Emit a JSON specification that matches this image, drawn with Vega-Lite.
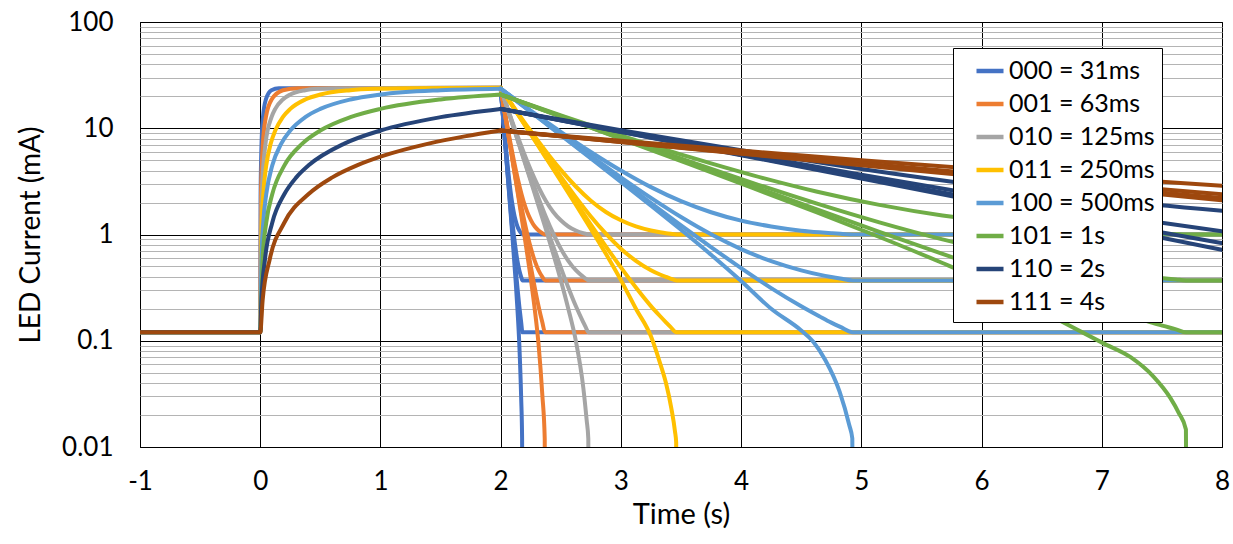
{
"$schema": "https://vega.github.io/schema/vega-lite/v6.json",
"width": 1082, "height": 425,
"autosize": {"type": "none"},
"padding": {"left": 140, "top": 22, "right": 11, "bottom": 97},
"background": "#ffffff",
"config": {"font": "Lato", "view": {"stroke": "#000", "strokeWidth": 1}},
"data": {"values": [
{"s":"000 = 31ms","b":"r","t":-1,"y":0.12},{"s":"000 = 31ms","b":"r","t":0,"y":0.12},{"s":"000 = 31ms","b":"r","t":0.0031,"y":2.39},{"s":"000 = 31ms","b":"r","t":0.011,"y":7.17},{"s":"000 = 31ms","b":"r","t":0.023,"y":12.72},{"s":"000 = 31ms","b":"r","t":0.047,"y":18.67},{"s":"000 = 31ms","b":"r","t":0.093,"y":22.81},{"s":"000 = 31ms","b":"r","t":0.155,"y":23.84},{"s":"000 = 31ms","b":"r","t":2,"y":24},
{"s":"000 = 31ms","b":"a","t":2,"y":24},{"s":"000 = 31ms","b":"a","t":2.031,"y":9.42},{"s":"000 = 31ms","b":"a","t":2.062,"y":4.06},{"s":"000 = 31ms","b":"a","t":2.093,"y":2.08},{"s":"000 = 31ms","b":"a","t":2.124,"y":1.36},{"s":"000 = 31ms","b":"a","t":2.1395,"y":1.19},{"s":"000 = 31ms","b":"a","t":2.155,"y":1.09},{"s":"000 = 31ms","b":"a","t":2.1705,"y":1.028},{"s":"000 = 31ms","b":"a","t":2.1814,"y":1},{"s":"000 = 31ms","b":"a","t":8,"y":1},
{"s":"000 = 31ms","b":"b","t":2,"y":24},{"s":"000 = 31ms","b":"b","t":2.031,"y":9.02},{"s":"000 = 31ms","b":"b","t":2.062,"y":3.51},{"s":"000 = 31ms","b":"b","t":2.093,"y":1.48},{"s":"000 = 31ms","b":"b","t":2.124,"y":0.736},{"s":"000 = 31ms","b":"b","t":2.1395,"y":0.565},{"s":"000 = 31ms","b":"b","t":2.155,"y":0.461},{"s":"000 = 31ms","b":"b","t":2.1705,"y":0.399},{"s":"000 = 31ms","b":"b","t":2.1814,"y":0.37},{"s":"000 = 31ms","b":"b","t":8,"y":0.37},
{"s":"000 = 31ms","b":"c","t":2,"y":24},{"s":"000 = 31ms","b":"c","t":2.031,"y":8.86},{"s":"000 = 31ms","b":"c","t":2.062,"y":3.29},{"s":"000 = 31ms","b":"c","t":2.093,"y":1.24},{"s":"000 = 31ms","b":"c","t":2.124,"y":0.49},{"s":"000 = 31ms","b":"c","t":2.1395,"y":0.317},{"s":"000 = 31ms","b":"c","t":2.155,"y":0.212},{"s":"000 = 31ms","b":"c","t":2.1705,"y":0.149},{"s":"000 = 31ms","b":"c","t":2.1814,"y":0.12},{"s":"000 = 31ms","b":"c","t":8,"y":0.12},
{"s":"000 = 31ms","b":"d","t":2,"y":24},{"s":"000 = 31ms","b":"d","t":2.031,"y":8.79},{"s":"000 = 31ms","b":"d","t":2.062,"y":3.19},{"s":"000 = 31ms","b":"d","t":2.093,"y":1.13},{"s":"000 = 31ms","b":"d","t":2.124,"y":0.372},{"s":"000 = 31ms","b":"d","t":2.1395,"y":0.198},{"s":"000 = 31ms","b":"d","t":2.155,"y":0.093},{"s":"000 = 31ms","b":"d","t":2.1705,"y":0.029},{"s":"000 = 31ms","b":"d","t":2.1783,"y":0.012},{"s":"000 = 31ms","b":"d","t":2.1814,"y":0.001},

{"s":"001 = 63ms","b":"r","t":-1,"y":0.12},{"s":"001 = 63ms","b":"r","t":0,"y":0.12},{"s":"001 = 63ms","b":"r","t":0.0063,"y":2.39},{"s":"001 = 63ms","b":"r","t":0.022,"y":7.17},{"s":"001 = 63ms","b":"r","t":0.047,"y":12.72},{"s":"001 = 63ms","b":"r","t":0.095,"y":18.67},{"s":"001 = 63ms","b":"r","t":0.189,"y":22.81},{"s":"001 = 63ms","b":"r","t":0.315,"y":23.84},{"s":"001 = 63ms","b":"r","t":2,"y":24},
{"s":"001 = 63ms","b":"a","t":2,"y":24},{"s":"001 = 63ms","b":"a","t":2.063,"y":9.42},{"s":"001 = 63ms","b":"a","t":2.126,"y":4.06},{"s":"001 = 63ms","b":"a","t":2.189,"y":2.08},{"s":"001 = 63ms","b":"a","t":2.252,"y":1.36},{"s":"001 = 63ms","b":"a","t":2.2835,"y":1.19},{"s":"001 = 63ms","b":"a","t":2.315,"y":1.09},{"s":"001 = 63ms","b":"a","t":2.3465,"y":1.028},{"s":"001 = 63ms","b":"a","t":2.3686,"y":1},{"s":"001 = 63ms","b":"a","t":8,"y":1},
{"s":"001 = 63ms","b":"b","t":2,"y":24},{"s":"001 = 63ms","b":"b","t":2.063,"y":9.02},{"s":"001 = 63ms","b":"b","t":2.126,"y":3.51},{"s":"001 = 63ms","b":"b","t":2.189,"y":1.48},{"s":"001 = 63ms","b":"b","t":2.252,"y":0.736},{"s":"001 = 63ms","b":"b","t":2.2835,"y":0.565},{"s":"001 = 63ms","b":"b","t":2.315,"y":0.461},{"s":"001 = 63ms","b":"b","t":2.3465,"y":0.399},{"s":"001 = 63ms","b":"b","t":2.3686,"y":0.37},{"s":"001 = 63ms","b":"b","t":8,"y":0.37},
{"s":"001 = 63ms","b":"c","t":2,"y":24},{"s":"001 = 63ms","b":"c","t":2.063,"y":8.86},{"s":"001 = 63ms","b":"c","t":2.126,"y":3.29},{"s":"001 = 63ms","b":"c","t":2.189,"y":1.24},{"s":"001 = 63ms","b":"c","t":2.252,"y":0.49},{"s":"001 = 63ms","b":"c","t":2.2835,"y":0.317},{"s":"001 = 63ms","b":"c","t":2.315,"y":0.212},{"s":"001 = 63ms","b":"c","t":2.3465,"y":0.149},{"s":"001 = 63ms","b":"c","t":2.3686,"y":0.12},{"s":"001 = 63ms","b":"c","t":8,"y":0.12},
{"s":"001 = 63ms","b":"d","t":2,"y":24},{"s":"001 = 63ms","b":"d","t":2.063,"y":8.79},{"s":"001 = 63ms","b":"d","t":2.126,"y":3.19},{"s":"001 = 63ms","b":"d","t":2.189,"y":1.13},{"s":"001 = 63ms","b":"d","t":2.252,"y":0.372},{"s":"001 = 63ms","b":"d","t":2.2835,"y":0.198},{"s":"001 = 63ms","b":"d","t":2.315,"y":0.093},{"s":"001 = 63ms","b":"d","t":2.3465,"y":0.031},{"s":"001 = 63ms","b":"d","t":2.3665,"y":0.012},{"s":"001 = 63ms","b":"d","t":2.3686,"y":0.001},

{"s":"010 = 125ms","b":"r","t":-1,"y":0.12},{"s":"010 = 125ms","b":"r","t":0,"y":0.12},{"s":"010 = 125ms","b":"r","t":0.0125,"y":2.39},{"s":"010 = 125ms","b":"r","t":0.044,"y":7.17},{"s":"010 = 125ms","b":"r","t":0.094,"y":12.72},{"s":"010 = 125ms","b":"r","t":0.125,"y":15.21},{"s":"010 = 125ms","b":"r","t":0.188,"y":18.67},{"s":"010 = 125ms","b":"r","t":0.25,"y":20.77},{"s":"010 = 125ms","b":"r","t":0.375,"y":22.81},{"s":"010 = 125ms","b":"r","t":0.5,"y":23.56},{"s":"010 = 125ms","b":"r","t":0.625,"y":23.84},{"s":"010 = 125ms","b":"r","t":2,"y":24},
{"s":"010 = 125ms","b":"a","t":2,"y":24},{"s":"010 = 125ms","b":"a","t":2.125,"y":9.42},{"s":"010 = 125ms","b":"a","t":2.25,"y":4.06},{"s":"010 = 125ms","b":"a","t":2.375,"y":2.08},{"s":"010 = 125ms","b":"a","t":2.4375,"y":1.63},{"s":"010 = 125ms","b":"a","t":2.5,"y":1.36},{"s":"010 = 125ms","b":"a","t":2.5625,"y":1.19},{"s":"010 = 125ms","b":"a","t":2.625,"y":1.09},{"s":"010 = 125ms","b":"a","t":2.6875,"y":1.028},{"s":"010 = 125ms","b":"a","t":2.7063,"y":1.015},{"s":"010 = 125ms","b":"a","t":2.7313,"y":1},{"s":"010 = 125ms","b":"a","t":8,"y":1},
{"s":"010 = 125ms","b":"b","t":2,"y":24},{"s":"010 = 125ms","b":"b","t":2.125,"y":9.02},{"s":"010 = 125ms","b":"b","t":2.25,"y":3.51},{"s":"010 = 125ms","b":"b","t":2.375,"y":1.48},{"s":"010 = 125ms","b":"b","t":2.4375,"y":1.02},{"s":"010 = 125ms","b":"b","t":2.5,"y":0.736},{"s":"010 = 125ms","b":"b","t":2.5625,"y":0.565},{"s":"010 = 125ms","b":"b","t":2.625,"y":0.461},{"s":"010 = 125ms","b":"b","t":2.6875,"y":0.399},{"s":"010 = 125ms","b":"b","t":2.7063,"y":0.385},{"s":"010 = 125ms","b":"b","t":2.7313,"y":0.37},{"s":"010 = 125ms","b":"b","t":8,"y":0.37},
{"s":"010 = 125ms","b":"c","t":2,"y":24},{"s":"010 = 125ms","b":"c","t":2.125,"y":8.86},{"s":"010 = 125ms","b":"c","t":2.25,"y":3.29},{"s":"010 = 125ms","b":"c","t":2.375,"y":1.24},{"s":"010 = 125ms","b":"c","t":2.4375,"y":0.774},{"s":"010 = 125ms","b":"c","t":2.5,"y":0.49},{"s":"010 = 125ms","b":"c","t":2.5625,"y":0.317},{"s":"010 = 125ms","b":"c","t":2.625,"y":0.212},{"s":"010 = 125ms","b":"c","t":2.6875,"y":0.149},{"s":"010 = 125ms","b":"c","t":2.7063,"y":0.135},{"s":"010 = 125ms","b":"c","t":2.7313,"y":0.12},{"s":"010 = 125ms","b":"c","t":8,"y":0.12},
{"s":"010 = 125ms","b":"d","t":2,"y":24},{"s":"010 = 125ms","b":"d","t":2.125,"y":8.79},{"s":"010 = 125ms","b":"d","t":2.25,"y":3.19},{"s":"010 = 125ms","b":"d","t":2.375,"y":1.13},{"s":"010 = 125ms","b":"d","t":2.4375,"y":0.658},{"s":"010 = 125ms","b":"d","t":2.5,"y":0.372},{"s":"010 = 125ms","b":"d","t":2.5625,"y":0.2},{"s":"010 = 125ms","b":"d","t":2.625,"y":0.1},{"s":"010 = 125ms","b":"d","t":2.6875,"y":0.036},{"s":"010 = 125ms","b":"d","t":2.715,"y":0.018},{"s":"010 = 125ms","b":"d","t":2.729,"y":0.012},{"s":"010 = 125ms","b":"d","t":2.7313,"y":0.001},

{"s":"011 = 250ms","b":"r","t":-1,"y":0.12},{"s":"011 = 250ms","b":"r","t":0,"y":0.12},{"s":"011 = 250ms","b":"r","t":0.0125,"y":1.29},{"s":"011 = 250ms","b":"r","t":0.025,"y":2.39},{"s":"011 = 250ms","b":"r","t":0.05,"y":4.45},{"s":"011 = 250ms","b":"r","t":0.0875,"y":7.17},{"s":"011 = 250ms","b":"r","t":0.125,"y":9.52},{"s":"011 = 250ms","b":"r","t":0.1875,"y":12.72},{"s":"011 = 250ms","b":"r","t":0.25,"y":15.21},{"s":"011 = 250ms","b":"r","t":0.375,"y":18.67},{"s":"011 = 250ms","b":"r","t":0.5,"y":20.77},{"s":"011 = 250ms","b":"r","t":0.75,"y":22.81},{"s":"011 = 250ms","b":"r","t":1,"y":23.56},{"s":"011 = 250ms","b":"r","t":1.25,"y":23.84},{"s":"011 = 250ms","b":"r","t":2,"y":24},
{"s":"011 = 250ms","b":"a","t":2,"y":24},{"s":"011 = 250ms","b":"a","t":2.125,"y":14.92},{"s":"011 = 250ms","b":"a","t":2.25,"y":9.42},{"s":"011 = 250ms","b":"a","t":2.375,"y":6.08},{"s":"011 = 250ms","b":"a","t":2.5,"y":4.06},{"s":"011 = 250ms","b":"a","t":2.625,"y":2.83},{"s":"011 = 250ms","b":"a","t":2.75,"y":2.08},{"s":"011 = 250ms","b":"a","t":2.875,"y":1.63},{"s":"011 = 250ms","b":"a","t":3,"y":1.36},{"s":"011 = 250ms","b":"a","t":3.125,"y":1.19},{"s":"011 = 250ms","b":"a","t":3.25,"y":1.09},{"s":"011 = 250ms","b":"a","t":3.325,"y":1.05},{"s":"011 = 250ms","b":"a","t":3.375,"y":1.028},{"s":"011 = 250ms","b":"a","t":3.4125,"y":1.015},{"s":"011 = 250ms","b":"a","t":3.4625,"y":1},{"s":"011 = 250ms","b":"a","t":8,"y":1},
{"s":"011 = 250ms","b":"b","t":2,"y":24},{"s":"011 = 250ms","b":"b","t":2.125,"y":14.68},{"s":"011 = 250ms","b":"b","t":2.25,"y":9.02},{"s":"011 = 250ms","b":"b","t":2.375,"y":5.59},{"s":"011 = 250ms","b":"b","t":2.5,"y":3.51},{"s":"011 = 250ms","b":"b","t":2.625,"y":2.25},{"s":"011 = 250ms","b":"b","t":2.75,"y":1.48},{"s":"011 = 250ms","b":"b","t":2.875,"y":1.02},{"s":"011 = 250ms","b":"b","t":3,"y":0.736},{"s":"011 = 250ms","b":"b","t":3.125,"y":0.565},{"s":"011 = 250ms","b":"b","t":3.25,"y":0.461},{"s":"011 = 250ms","b":"b","t":3.325,"y":0.42},{"s":"011 = 250ms","b":"b","t":3.375,"y":0.399},{"s":"011 = 250ms","b":"b","t":3.4125,"y":0.385},{"s":"011 = 250ms","b":"b","t":3.4625,"y":0.37},{"s":"011 = 250ms","b":"b","t":8,"y":0.37},
{"s":"011 = 250ms","b":"c","t":2,"y":24},{"s":"011 = 250ms","b":"c","t":2.125,"y":14.58},{"s":"011 = 250ms","b":"c","t":2.25,"y":8.86},{"s":"011 = 250ms","b":"c","t":2.375,"y":5.39},{"s":"011 = 250ms","b":"c","t":2.5,"y":3.29},{"s":"011 = 250ms","b":"c","t":2.625,"y":2.02},{"s":"011 = 250ms","b":"c","t":2.75,"y":1.24},{"s":"011 = 250ms","b":"c","t":2.875,"y":0.774},{"s":"011 = 250ms","b":"c","t":3,"y":0.49},{"s":"011 = 250ms","b":"c","t":3.125,"y":0.317},{"s":"011 = 250ms","b":"c","t":3.25,"y":0.212},{"s":"011 = 250ms","b":"c","t":3.325,"y":0.171},{"s":"011 = 250ms","b":"c","t":3.375,"y":0.149},{"s":"011 = 250ms","b":"c","t":3.4125,"y":0.135},{"s":"011 = 250ms","b":"c","t":3.4625,"y":0.12},{"s":"011 = 250ms","b":"c","t":8,"y":0.12},
{"s":"011 = 250ms","b":"d","t":2,"y":24},{"s":"011 = 250ms","b":"d","t":2.125,"y":14.53},{"s":"011 = 250ms","b":"d","t":2.25,"y":8.79},{"s":"011 = 250ms","b":"d","t":2.375,"y":5.3},{"s":"011 = 250ms","b":"d","t":2.5,"y":3.19},{"s":"011 = 250ms","b":"d","t":2.625,"y":1.91},{"s":"011 = 250ms","b":"d","t":2.75,"y":1.13},{"s":"011 = 250ms","b":"d","t":2.875,"y":0.658},{"s":"011 = 250ms","b":"d","t":3,"y":0.372},{"s":"011 = 250ms","b":"d","t":3.125,"y":0.2},{"s":"011 = 250ms","b":"d","t":3.25,"y":0.11},{"s":"011 = 250ms","b":"d","t":3.325,"y":0.062},{"s":"011 = 250ms","b":"d","t":3.375,"y":0.04},{"s":"011 = 250ms","b":"d","t":3.42,"y":0.023},{"s":"011 = 250ms","b":"d","t":3.45,"y":0.014},{"s":"011 = 250ms","b":"d","t":3.46,"y":0.011},{"s":"011 = 250ms","b":"d","t":3.4625,"y":0.001},

{"s":"100 = 500ms","b":"r","t":-1,"y":0.12},{"s":"100 = 500ms","b":"r","t":0,"y":0.12},{"s":"100 = 500ms","b":"r","t":0.01,"y":0.59},{"s":"100 = 500ms","b":"r","t":0.025,"y":1.29},{"s":"100 = 500ms","b":"r","t":0.05,"y":2.39},{"s":"100 = 500ms","b":"r","t":0.1,"y":4.45},{"s":"100 = 500ms","b":"r","t":0.175,"y":7.17},{"s":"100 = 500ms","b":"r","t":0.25,"y":9.52},{"s":"100 = 500ms","b":"r","t":0.375,"y":12.72},{"s":"100 = 500ms","b":"r","t":0.5,"y":15.21},{"s":"100 = 500ms","b":"r","t":0.75,"y":18.67},{"s":"100 = 500ms","b":"r","t":1,"y":20.77},{"s":"100 = 500ms","b":"r","t":1.5,"y":22.81},{"s":"100 = 500ms","b":"r","t":2,"y":23.56},
{"s":"100 = 500ms","b":"a","t":2,"y":23.56},{"s":"100 = 500ms","b":"a","t":2.25,"y":14.66},{"s":"100 = 500ms","b":"a","t":2.5,"y":9.26},{"s":"100 = 500ms","b":"a","t":2.75,"y":5.98},{"s":"100 = 500ms","b":"a","t":3,"y":4.0},{"s":"100 = 500ms","b":"a","t":3.25,"y":2.79},{"s":"100 = 500ms","b":"a","t":3.5,"y":2.06},{"s":"100 = 500ms","b":"a","t":3.75,"y":1.62},{"s":"100 = 500ms","b":"a","t":4,"y":1.35},{"s":"100 = 500ms","b":"a","t":4.25,"y":1.19},{"s":"100 = 500ms","b":"a","t":4.5,"y":1.087},{"s":"100 = 500ms","b":"a","t":4.65,"y":1.048},{"s":"100 = 500ms","b":"a","t":4.75,"y":1.027},{"s":"100 = 500ms","b":"a","t":4.825,"y":1.014},{"s":"100 = 500ms","b":"a","t":4.95,"y":1},{"s":"100 = 500ms","b":"a","t":8,"y":1},
{"s":"100 = 500ms","b":"b","t":2,"y":23.56},{"s":"100 = 500ms","b":"b","t":2.25,"y":14.41},{"s":"100 = 500ms","b":"b","t":2.5,"y":8.86},{"s":"100 = 500ms","b":"b","t":2.75,"y":5.49},{"s":"100 = 500ms","b":"b","t":3,"y":3.45},{"s":"100 = 500ms","b":"b","t":3.25,"y":2.21},{"s":"100 = 500ms","b":"b","t":3.5,"y":1.46},{"s":"100 = 500ms","b":"b","t":3.75,"y":1.005},{"s":"100 = 500ms","b":"b","t":4,"y":0.729},{"s":"100 = 500ms","b":"b","t":4.25,"y":0.561},{"s":"100 = 500ms","b":"b","t":4.5,"y":0.46},{"s":"100 = 500ms","b":"b","t":4.65,"y":0.419},{"s":"100 = 500ms","b":"b","t":4.75,"y":0.398},{"s":"100 = 500ms","b":"b","t":4.825,"y":0.385},{"s":"100 = 500ms","b":"b","t":4.93,"y":0.37},{"s":"100 = 500ms","b":"b","t":8,"y":0.37},
{"s":"100 = 500ms","b":"c","t":2,"y":23.56},{"s":"100 = 500ms","b":"c","t":2.25,"y":14.31},{"s":"100 = 500ms","b":"c","t":2.5,"y":8.7},{"s":"100 = 500ms","b":"c","t":2.75,"y":5.3},{"s":"100 = 500ms","b":"c","t":3,"y":3.23},{"s":"100 = 500ms","b":"c","t":3.25,"y":1.98},{"s":"100 = 500ms","b":"c","t":3.5,"y":1.22},{"s":"100 = 500ms","b":"c","t":3.75,"y":0.762},{"s":"100 = 500ms","b":"c","t":4,"y":0.483},{"s":"100 = 500ms","b":"c","t":4.25,"y":0.313},{"s":"100 = 500ms","b":"c","t":4.5,"y":0.211},{"s":"100 = 500ms","b":"c","t":4.65,"y":0.17},{"s":"100 = 500ms","b":"c","t":4.75,"y":0.148},{"s":"100 = 500ms","b":"c","t":4.825,"y":0.135},{"s":"100 = 500ms","b":"c","t":4.93,"y":0.12},{"s":"100 = 500ms","b":"c","t":8,"y":0.12},
{"s":"100 = 500ms","b":"d","t":2,"y":23.56},{"s":"100 = 500ms","b":"d","t":2.25,"y":14.26},{"s":"100 = 500ms","b":"d","t":2.5,"y":8.62},{"s":"100 = 500ms","b":"d","t":2.75,"y":5.2},{"s":"100 = 500ms","b":"d","t":3,"y":3.13},{"s":"100 = 500ms","b":"d","t":3.25,"y":1.87},{"s":"100 = 500ms","b":"d","t":3.5,"y":1.108},{"s":"100 = 500ms","b":"d","t":3.75,"y":0.645},{"s":"100 = 500ms","b":"d","t":4,"y":0.365},{"s":"100 = 500ms","b":"d","t":4.25,"y":0.2},{"s":"100 = 500ms","b":"d","t":4.5,"y":0.125},{"s":"100 = 500ms","b":"d","t":4.6,"y":0.098},{"s":"100 = 500ms","b":"d","t":4.7,"y":0.066},{"s":"100 = 500ms","b":"d","t":4.82,"y":0.033},{"s":"100 = 500ms","b":"d","t":4.9,"y":0.016},{"s":"100 = 500ms","b":"d","t":4.925,"y":0.012},{"s":"100 = 500ms","b":"d","t":4.93,"y":0.001},

{"s":"101 = 1s","b":"r","t":-1,"y":0.12},{"s":"101 = 1s","b":"r","t":0,"y":0.12},{"s":"101 = 1s","b":"r","t":0.02,"y":0.59},{"s":"101 = 1s","b":"r","t":0.05,"y":1.29},{"s":"101 = 1s","b":"r","t":0.1,"y":2.39},{"s":"101 = 1s","b":"r","t":0.2,"y":4.45},{"s":"101 = 1s","b":"r","t":0.35,"y":7.17},{"s":"101 = 1s","b":"r","t":0.5,"y":9.52},{"s":"101 = 1s","b":"r","t":0.75,"y":12.72},{"s":"101 = 1s","b":"r","t":1,"y":15.21},{"s":"101 = 1s","b":"r","t":1.5,"y":18.67},{"s":"101 = 1s","b":"r","t":2,"y":20.77},
{"s":"101 = 1s","b":"a","t":2,"y":20.77},{"s":"101 = 1s","b":"a","t":2.525,"y":12.96},{"s":"101 = 1s","b":"a","t":3.05,"y":8.22},{"s":"101 = 1s","b":"a","t":3.575,"y":5.34},{"s":"101 = 1s","b":"a","t":4.1,"y":3.6},{"s":"101 = 1s","b":"a","t":4.625,"y":2.54},{"s":"101 = 1s","b":"a","t":5.15,"y":1.9},{"s":"101 = 1s","b":"a","t":5.675,"y":1.51},{"s":"101 = 1s","b":"a","t":6.2,"y":1.28},{"s":"101 = 1s","b":"a","t":6.725,"y":1.134},{"s":"101 = 1s","b":"a","t":7.04,"y":1.077},{"s":"101 = 1s","b":"a","t":7.25,"y":1.047},{"s":"101 = 1s","b":"a","t":7.4075,"y":1.028},{"s":"101 = 1s","b":"a","t":7.5125,"y":1.017},{"s":"101 = 1s","b":"a","t":7.6175,"y":1.007},{"s":"101 = 1s","b":"a","t":7.7015,"y":1},{"s":"101 = 1s","b":"a","t":8,"y":1},
{"s":"101 = 1s","b":"b","t":2,"y":20.77},{"s":"101 = 1s","b":"b","t":2.525,"y":12.71},{"s":"101 = 1s","b":"b","t":3.05,"y":7.82},{"s":"101 = 1s","b":"b","t":3.575,"y":4.85},{"s":"101 = 1s","b":"b","t":4.1,"y":3.05},{"s":"101 = 1s","b":"b","t":4.625,"y":1.96},{"s":"101 = 1s","b":"b","t":5.15,"y":1.3},{"s":"101 = 1s","b":"b","t":5.675,"y":0.899},{"s":"101 = 1s","b":"b","t":6.2,"y":0.656},{"s":"101 = 1s","b":"b","t":6.725,"y":0.508},{"s":"101 = 1s","b":"b","t":7.04,"y":0.449},{"s":"101 = 1s","b":"b","t":7.25,"y":0.418},{"s":"101 = 1s","b":"b","t":7.4075,"y":0.399},{"s":"101 = 1s","b":"b","t":7.5125,"y":0.388},{"s":"101 = 1s","b":"b","t":7.6175,"y":0.3775},{"s":"101 = 1s","b":"b","t":7.7015,"y":0.37},{"s":"101 = 1s","b":"b","t":8,"y":0.37},
{"s":"101 = 1s","b":"c","t":2,"y":20.77},{"s":"101 = 1s","b":"c","t":2.525,"y":12.61},{"s":"101 = 1s","b":"c","t":3.05,"y":7.66},{"s":"101 = 1s","b":"c","t":3.575,"y":4.66},{"s":"101 = 1s","b":"c","t":4.1,"y":2.84},{"s":"101 = 1s","b":"c","t":4.625,"y":1.73},{"s":"101 = 1s","b":"c","t":5.15,"y":1.06},{"s":"101 = 1s","b":"c","t":5.675,"y":0.656},{"s":"101 = 1s","b":"c","t":6.2,"y":0.409},{"s":"101 = 1s","b":"c","t":6.725,"y":0.26},{"s":"101 = 1s","b":"c","t":7.04,"y":0.2},{"s":"101 = 1s","b":"c","t":7.25,"y":0.169},{"s":"101 = 1s","b":"c","t":7.4075,"y":0.149},{"s":"101 = 1s","b":"c","t":7.5125,"y":0.138},{"s":"101 = 1s","b":"c","t":7.6175,"y":0.128},{"s":"101 = 1s","b":"c","t":7.7015,"y":0.12},{"s":"101 = 1s","b":"c","t":8,"y":0.12},
{"s":"101 = 1s","b":"d","t":2,"y":20.77},{"s":"101 = 1s","b":"d","t":2.525,"y":12.56},{"s":"101 = 1s","b":"d","t":3.05,"y":7.58},{"s":"101 = 1s","b":"d","t":3.575,"y":4.56},{"s":"101 = 1s","b":"d","t":4.1,"y":2.73},{"s":"101 = 1s","b":"d","t":4.625,"y":1.62},{"s":"101 = 1s","b":"d","t":5.15,"y":0.947},{"s":"101 = 1s","b":"d","t":5.675,"y":0.539},{"s":"101 = 1s","b":"d","t":6.2,"y":0.291},{"s":"101 = 1s","b":"d","t":6.65,"y":0.155},{"s":"101 = 1s","b":"d","t":7.01,"y":0.095},{"s":"101 = 1s","b":"d","t":7.24,"y":0.07},{"s":"101 = 1s","b":"d","t":7.43,"y":0.046},{"s":"101 = 1s","b":"d","t":7.57,"y":0.029},{"s":"101 = 1s","b":"d","t":7.64,"y":0.021},{"s":"101 = 1s","b":"d","t":7.7,"y":0.0146},{"s":"101 = 1s","b":"d","t":7.705,"y":0.001},

{"s":"110 = 2s","b":"r","t":-1,"y":0.12},{"s":"110 = 2s","b":"r","t":0,"y":0.12},{"s":"110 = 2s","b":"r","t":0.01,"y":0.24},{"s":"110 = 2s","b":"r","t":0.04,"y":0.59},{"s":"110 = 2s","b":"r","t":0.1,"y":1.29},{"s":"110 = 2s","b":"r","t":0.2,"y":2.39},{"s":"110 = 2s","b":"r","t":0.3,"y":3.45},{"s":"110 = 2s","b":"r","t":0.4,"y":4.45},{"s":"110 = 2s","b":"r","t":0.7,"y":7.17},{"s":"110 = 2s","b":"r","t":1,"y":9.52},{"s":"110 = 2s","b":"r","t":1.5,"y":12.72},{"s":"110 = 2s","b":"r","t":2,"y":15.21},
{"s":"110 = 2s","b":"a","t":2,"y":15.21},{"s":"110 = 2s","b":"a","t":3,"y":9.6},{"s":"110 = 2s","b":"a","t":4,"y":6.2},{"s":"110 = 2s","b":"a","t":5,"y":4.14},{"s":"110 = 2s","b":"a","t":6,"y":2.89},{"s":"110 = 2s","b":"a","t":7,"y":2.13},{"s":"110 = 2s","b":"a","t":8,"y":1.67},
{"s":"110 = 2s","b":"b","t":2,"y":15.21},{"s":"110 = 2s","b":"b","t":3,"y":9.35},{"s":"110 = 2s","b":"b","t":4,"y":5.8},{"s":"110 = 2s","b":"b","t":5,"y":3.65},{"s":"110 = 2s","b":"b","t":6,"y":2.34},{"s":"110 = 2s","b":"b","t":7,"y":1.55},{"s":"110 = 2s","b":"b","t":8,"y":1.07},
{"s":"110 = 2s","b":"c","t":2,"y":15.21},{"s":"110 = 2s","b":"c","t":3,"y":9.26},{"s":"110 = 2s","b":"c","t":4,"y":5.64},{"s":"110 = 2s","b":"c","t":5,"y":3.45},{"s":"110 = 2s","b":"c","t":6,"y":2.12},{"s":"110 = 2s","b":"c","t":7,"y":1.32},{"s":"110 = 2s","b":"c","t":8,"y":0.83},
{"s":"110 = 2s","b":"d","t":2,"y":15.21},{"s":"110 = 2s","b":"d","t":3,"y":9.21},{"s":"110 = 2s","b":"d","t":4,"y":5.57},{"s":"110 = 2s","b":"d","t":5,"y":3.36},{"s":"110 = 2s","b":"d","t":6,"y":2.02},{"s":"110 = 2s","b":"d","t":7,"y":1.21},{"s":"110 = 2s","b":"d","t":8,"y":0.716},

{"s":"111 = 4s","b":"r","t":-1,"y":0.12},{"s":"111 = 4s","b":"r","t":0,"y":0.12},{"s":"111 = 4s","b":"r","t":0.02,"y":0.24},{"s":"111 = 4s","b":"r","t":0.08,"y":0.59},{"s":"111 = 4s","b":"r","t":0.2,"y":1.29},{"s":"111 = 4s","b":"r","t":0.4,"y":2.39},{"s":"111 = 4s","b":"r","t":0.6,"y":3.45},{"s":"111 = 4s","b":"r","t":0.8,"y":4.45},{"s":"111 = 4s","b":"r","t":1,"y":5.4},{"s":"111 = 4s","b":"r","t":1.4,"y":7.17},{"s":"111 = 4s","b":"r","t":1.7,"y":8.39},{"s":"111 = 4s","b":"r","t":2,"y":9.52},
{"s":"111 = 4s","b":"a","t":2,"y":9.52},{"s":"111 = 4s","b":"a","t":3,"y":7.63},{"s":"111 = 4s","b":"a","t":4,"y":6.16},{"s":"111 = 4s","b":"a","t":5,"y":5.01},{"s":"111 = 4s","b":"a","t":6,"y":4.12},{"s":"111 = 4s","b":"a","t":7,"y":3.42},{"s":"111 = 4s","b":"a","t":8,"y":2.88},
{"s":"111 = 4s","b":"b","t":2,"y":9.52},{"s":"111 = 4s","b":"b","t":3,"y":7.49},{"s":"111 = 4s","b":"b","t":4,"y":5.91},{"s":"111 = 4s","b":"b","t":5,"y":4.68},{"s":"111 = 4s","b":"b","t":6,"y":3.72},{"s":"111 = 4s","b":"b","t":7,"y":2.97},{"s":"111 = 4s","b":"b","t":8,"y":2.39},
{"s":"111 = 4s","b":"c","t":2,"y":9.52},{"s":"111 = 4s","b":"c","t":3,"y":7.43},{"s":"111 = 4s","b":"c","t":4,"y":5.81},{"s":"111 = 4s","b":"c","t":5,"y":4.55},{"s":"111 = 4s","b":"c","t":6,"y":3.56},{"s":"111 = 4s","b":"c","t":7,"y":2.79},{"s":"111 = 4s","b":"c","t":8,"y":2.2},
{"s":"111 = 4s","b":"d","t":2,"y":9.52},{"s":"111 = 4s","b":"d","t":3,"y":7.41},{"s":"111 = 4s","b":"d","t":4,"y":5.76},{"s":"111 = 4s","b":"d","t":5,"y":4.48},{"s":"111 = 4s","b":"d","t":6,"y":3.49},{"s":"111 = 4s","b":"d","t":7,"y":2.71},{"s":"111 = 4s","b":"d","t":8,"y":2.1}
]},
"mark": {"type": "line", "clip": true, "strokeWidth": 4, "interpolate": "monotone", "strokeCap": "round", "strokeJoin": "round"},
"encoding": {
  "x": {"field": "t", "type": "quantitative",
    "scale": {"domain": [-1, 8], "nice": false, "zero": false},
    "axis": {"values": [-1,0,1,2,3,4,5,6,7,8], "labelExpr": "'' + datum.value", "grid": true, "gridColor": "#000", "gridWidth": 1, "ticks": false, "domain": false,
      "labelFontSize": 26, "labelFont": "Lato", "labelColor": "#000", "labelPadding": 21, "labelFlush": false, "labelOverlap": false,
      "title": "Time (s)", "titleFontSize": 29, "titleFont": "Lato", "titleFontWeight": "normal", "titleColor": "#000", "titlePadding": 6}},
  "y": {"field": "y", "type": "quantitative",
    "scale": {"type": "log", "domain": [0.01, 100], "nice": false},
    "axis": {"values": [0.01,0.02,0.03,0.04,0.05,0.06,0.07,0.08,0.09,0.1,0.2,0.3,0.4,0.5,0.6,0.7,0.8,0.9,1,2,3,4,5,6,7,8,9,10,20,30,40,50,60,70,80,90,100],
      "format": "~g",
      "labelExpr": "indexof([0.01,0.1,1,10,100], datum.value) >= 0 ? datum.label : ''",
      "grid": true,
      "gridColor": {"condition": {"test": "indexof([0.01,0.1,1,10,100], datum.value) >= 0", "value": "#000"}, "value": "#b4b4b4"},
      "gridWidth": 1, "ticks": false, "domain": false,
      "labelFontSize": 26, "labelFont": "Lato", "labelColor": "#000", "labelPadding": 27, "labelFlush": false, "labelOverlap": false,
      "title": "LED Current (mA)", "titleFontSize": 28, "titleFont": "Lato", "titleFontWeight": "normal", "titleColor": "#000", "titlePadding": 16}},
  "color": {"field": "s", "type": "nominal",
    "scale": {"domain": ["000 = 31ms","001 = 63ms","010 = 125ms","011 = 250ms","100 = 500ms","101 = 1s","110 = 2s","111 = 4s"],
      "range": ["#4472C4","#ED7D31","#A5A5A5","#FFC000","#5B9BD5","#70AD47","#264478","#9E480E"]},
    "legend": {"title": null, "orient": "none", "legendX": 813, "legendY": 26, "fillColor": "#ffffff", "strokeColor": "#000",
      "padding": 7, "symbolType": "stroke", "symbolSize": 730, "symbolStrokeWidth": 4.5, "symbolOffset": 14,
      "labelFontSize": 25, "labelFont": "Lato", "labelColor": "#000", "labelOffset": 3, "rowPadding": 4, "labelLimit": 400,
      "labelExpr": "datum.label + '\u00a0\u00a0\u00a0\u00a0\u00a0\u00a0\u00a0\u00a0\u00a0\u00a0\u00a0\u00a0\u00a0'"}},
  "detail": {"field": "b", "type": "nominal"}
}
}
